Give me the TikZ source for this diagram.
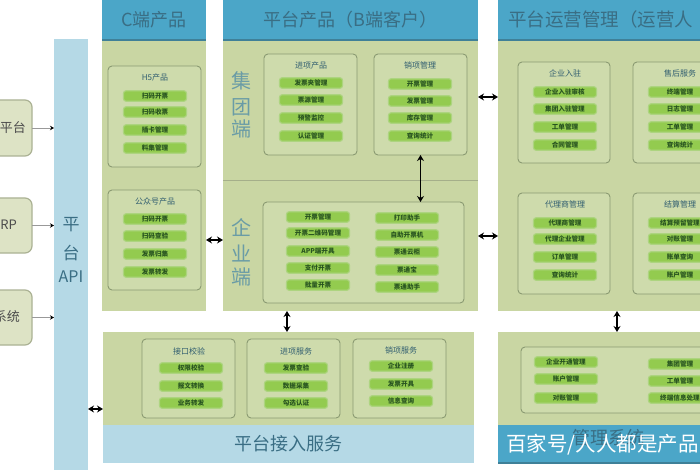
\documentclass[tikz,border=0pt]{standalone}
\usepackage{fontspec}
\setmainfont{Noto Sans CJK SC}
\usetikzlibrary{arrows.meta}
\definecolor{panelg}{HTML}{C9D6A3}
\definecolor{boxg}{HTML}{CEDBAC}
\definecolor{boxline}{HTML}{8A9A72}
\definecolor{pillg}{HTML}{93CB4F}
\definecolor{pilledge}{HTML}{ADD480}
\definecolor{pilltext}{HTML}{285420}
\definecolor{headblue}{HTML}{4BA6C8}
\definecolor{headline}{HTML}{3F8098}
\definecolor{lightblue}{HTML}{B5D9E6}
\definecolor{titleblue}{HTML}{3A6E84}
\definecolor{grouptext}{HTML}{6A9CA6}
\definecolor{sourceg}{HTML}{DDE3C5}
\definecolor{sourceline}{HTML}{ABB294}
\tikzset{
  blockbase/.style={inner sep=0pt,outer sep=0pt,rectangle},
  panel/.style={blockbase,fill=panelg},
  header/.style={blockbase,fill=headblue,text=titleblue,font=\fontsize{18}{20}\selectfont},
  headerrule/.style={draw=headline,line width=1.2pt},
  lightband/.style={blockbase,fill=lightblue,text=titleblue,font=\fontsize{18}{20}\selectfont},
  groupbox/.style={blockbase,rounded corners=4pt,fill=boxg,draw=boxline,line width=0.9pt},
  pill/.style={blockbase,rounded corners=2.5pt,fill=pillg,draw=pilledge,line width=1.1pt,minimum width=63pt,minimum height=10.5pt,text=pilltext,font=\fontsize{6.6}{7}\selectfont\bfseries},
  boxtitle/.style={inner sep=0pt,text=titleblue!85!black,font=\fontsize{8}{9}\selectfont},
  grouplabel/.style={inner sep=0pt,text=grouptext,font=\fontsize{20}{21}\selectfont},
  sourcebox/.style={blockbase,rounded corners=7pt,fill=sourceg,draw=sourceline,line width=1.2pt},
  sourcetext/.style={inner sep=0pt,anchor=east,text=black!70,font=\fontsize{13}{15}\selectfont},
  duplex/.style={{Stealth[length=6pt,width=7pt]}-{Stealth[length=6pt,width=7pt]},line width=1.4pt,black},
  feed/.style={-{Stealth[length=4pt,width=4.5pt,color=black]},line width=0.7pt,black!40},
}
% name, style, x1, y1, x2, y2, text
\newcommand\rectnode[7]{%
  \pgfmathsetmacro\rnw{#5-#3}\pgfmathsetmacro\rnh{#6-#4}%
  \pgfmathsetmacro\rncx{(#3+#5)/2}\pgfmathsetmacro\rncy{(#4+#6)/2}%
  \node[#2,minimum width=\rnw pt,minimum height=\rnh pt] (#1) at (\rncx,\rncy) {#7};}
% prefix, x, list y/text
\newcommand\pillcol[3]{\foreach \py/\pt [count=\pn] in {#3} {\node[pill] (#1-\pn) at (#2,\py) {\pt};}}
\begin{document}
\begin{tikzpicture}[x=1pt,y=-1pt]
\useasboundingbox (0,0) rectangle (700,470);
\fill[white] (0,0) rectangle (700,470);
\begin{scope}
\clip (0,0) rectangle (700,470);
% source systems
\rectnode{srcA}{sourcebox}{-60}{100}{32}{156}{}
\rectnode{srcB}{sourcebox}{-60}{198}{32}{253}{}
\rectnode{srcC}{sourcebox}{-60}{290}{32}{345}{}
\node[sourcetext] (srcAt) at (26,128) {平台};
\node[sourcetext] (srcBt) at (17,225) {ERP};
\node[sourcetext] (srcCt) at (20,317) {系统};
% API bar
\rectnode{api}{blockbase,fill=lightblue}{54}{39}{88}{470}{}
\node[grouplabel,text=titleblue,font=\fontsize{17}{19}\selectfont] (api1) at (71,225) {平};
\node[grouplabel,text=titleblue,font=\fontsize{17}{19}\selectfont] (api2) at (71,253) {台};
\node[grouplabel,text=titleblue,font=\fontsize{16}{18}\selectfont] (api3) at (71,277) {API};
\draw[feed] (srcA.east) -- (srcA.east -| api.west);
\draw[feed] (srcB.east) -- (srcB.east -| api.west);
\draw[feed] (srcC.east) -- (srcC.east -| api.west);
% C panel
\rectnode{cbody}{panel}{102}{40}{206}{311}{}
\rectnode{chead}{header}{102}{0}{206}{40}{C端产品}
\draw[headerrule] (chead.south west) -- (chead.south east);
\rectnode{h5}{groupbox}{108}{66}{201}{167}{}
\node[boxtitle] (h5t) at (155,77) {H5产品};
\pillcol{h5p}{155}{96/扫码开票,112/扫码收票,130/插卡管理,148/料集管理}
\rectnode{gzh}{groupbox}{108}{190}{201}{290}{}
\node[boxtitle] (gzht) at (155,201) {公众号产品};
\pillcol{gzhp}{155}{219/扫码开票,236/扫码查验,254/发票归集,272/发票转发}
% B panel
\rectnode{bbody}{panel}{223}{40}{478}{311}{}
\rectnode{bhead}{header}{223}{0}{478}{40}{平台产品（B端客户）}
\draw[headerrule] (bhead.south west) -- (bhead.south east);
\draw[boxg!80!black,line width=0.6pt] (bbody.west |- 0,180) -- (bbody.east |- 0,180);
\node[grouplabel] (ji1) at (241,81) {集};
\node[grouplabel] (ji2) at (241,107) {团};
\node[grouplabel] (ji3) at (241,129) {端};
\node[grouplabel] (qi1) at (241,228) {企};
\node[grouplabel] (qi2) at (241,253) {业};
\node[grouplabel] (qi3) at (241,277) {端};
\rectnode{jx}{groupbox}{264}{54}{357}{155}{}
\node[boxtitle] (jxt) at (311,65) {进项产品};
\pillcol{jxp}{311}{83/发票夹管理,100/票源管理,118/预警监控,136/认证管理}
\rectnode{xx}{groupbox}{374}{54}{467}{155}{}
\node[boxtitle] (xxt) at (420,65) {销项管理};
\pillcol{xxp}{420}{84/开票管理,101/发票管理,118/库存管理,136/查询统计}
\rectnode{ent}{groupbox}{263}{202}{464}{303}{}
\pillcol{entl}{318}{217/开票管理,233/开票二维码管理,251/APP端开具,268/支付开票,285/批量开票}
\pillcol{entr}{407}{218/打印助手,235/自助开票机,252/票通云柜,270/票通宝,287/票通助手}
% operations panel
\rectnode{obody}{panel}{498}{40}{730}{311}{}
\rectnode{ohead}{blockbase,fill=headblue}{498}{0}{730}{40}{}
\draw[headerrule] (ohead.south west) -- (ohead.south east);
\node[inner sep=0pt,anchor=west,text=titleblue,font=\fontsize{18.5}{20}\selectfont] (ohdt) at (508,19) {平台运营管理（运营人};
\rectnode{qy}{groupbox}{518}{62}{610}{163}{}
\node[boxtitle] (qyt) at (565,73) {企业入驻};
\pillcol{qyp}{565}{92/企业入驻审核,109/集团入驻管理,127/工单管理,145/合同管理}
\rectnode{sh}{groupbox}{633}{62}{726}{163}{}
\node[boxtitle] (sht) at (680,73) {售后服务};
\pillcol{shp}{680}{92/终端管理,109/日志管理,127/工单管理,145/查询统计}
\rectnode{dl}{groupbox}{518}{193}{610}{294}{}
\node[boxtitle] (dlt) at (565,204) {代理商管理};
\pillcol{dlp}{565}{223/代理商管理,239/代理企业管理,257/订单管理,275/查询统计}
\rectnode{js}{groupbox}{633}{193}{726}{294}{}
\node[boxtitle] (jst) at (680,204) {结算管理};
\pillcol{jsp}{680}{223/结算预留管理,239/对账管理,257/账单查询,275/账户管理}
% access service
\rectnode{abody}{panel}{103}{332}{474}{425}{}
\rectnode{aband}{lightband}{103}{425}{474}{463}{平台接入服务}
\rectnode{jk}{groupbox}{142}{339}{235}{418}{}
\node[boxtitle] (jkt) at (189,351) {接口校验};
\pillcol{jkp}{191}{368/权限校验,386/报文转换,403/业务转发}
\rectnode{jf}{groupbox}{247}{339}{340}{418}{}
\node[boxtitle] (jft) at (296,351) {进项服务};
\pillcol{jfp}{296}{368/发票查验,386/数据采集,403/勾选认证}
\rectnode{xf}{groupbox}{353}{339}{446}{418}{}
\node[boxtitle] (xft) at (401,350) {销项服务};
\pillcol{xfp}{401}{366/企业注册,384/发票开具,401/信息查询}
% bottom right
\rectnode{mbody}{panel}{498}{332}{730}{425}{}
\rectnode{mband}{blockbase,fill=headblue}{498}{425}{730}{463}{}
\draw[headerrule] (mband.south west) -- (mband.south east);
\rectnode{mbox}{groupbox}{521}{347}{726}{413}{}
\pillcol{mpl}{566}{362/企业开通管理,379/账户管理,398/对账管理}
\pillcol{mpr}{680}{364/集团管理,381/工单管理,398/终端信息处理}
\node[inner sep=0pt,text=titleblue,font=\fontsize{18}{20}\selectfont] (mdim) at (608,438) {管理系统};
\node[inner sep=0pt,anchor=west,text=white,font=\fontsize{20.5}{22}\selectfont] (wm) at (506,445) {百家号/人人都是产品};
\end{scope}
% connectors between blocks
\draw[duplex] (xx.south) -- (xx.south |- ent.north);
\draw[duplex] (cbody.east |- 0,240) -- (bbody.west |- 0,240);
\draw[duplex] (bbody.east |- 0,97) -- (obody.west |- 0,97);
\draw[duplex] (bbody.east |- 0,236) -- (obody.west |- 0,236);
\draw[duplex] (bbody.south -| 287,0) -- (abody.north -| 287,0);
\draw[duplex] (obody.south -| 617,0) -- (mbody.north -| 617,0);
\draw[duplex] (api.east |- 0,409) -- (abody.west |- 0,409);
\end{tikzpicture}
\end{document}
